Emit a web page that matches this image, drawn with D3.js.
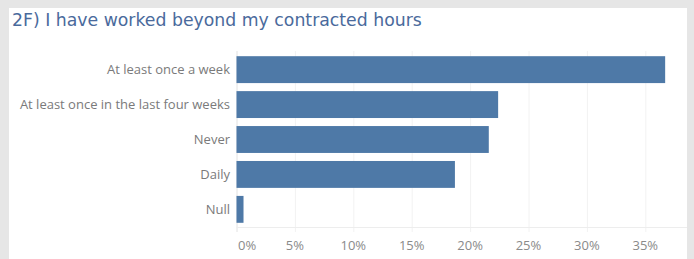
<!DOCTYPE html>
<html>
<head>
<meta charset="utf-8">
<script src="https://cdn.jsdelivr.net/npm/d3@7"></script>
<style>
  html, body { margin: 0; padding: 0; background: #e6e6e6; }
  svg { display: block; }
</style>
</head>
<body>
<script>
// Chart size
var width = 694;
var height = 259;

// Data
var categories = ["At least once a week", "At least once in the last four weeks", "Never", "Daily", "Null"];
var values = [0.367, 0.224, 0.216, 0.187, 0.006];
var ticks = [0, 0.05, 0.10, 0.15, 0.20, 0.25, 0.30, 0.35];
var title = "2F) I have worked beyond my contracted hours";

var svg = d3.select("body")
    .append("svg")
    .attr("width", width)
    .attr("height", height);

// white panel
svg.append("rect")
    .attr("x", 9)
    .attr("y", 8)
    .attr("width", 678)
    .attr("height", height - 8)
    .attr("fill", "white");

svg.append("text")
    .attr("x", 12)
    .attr("y", 26)
    .attr("font-family", "DejaVu Sans, Verdana, sans-serif")
    .attr("font-size", 17.3)
    .attr("fill", "#4a6a9c")
    .text(title);

// scales
var x = d3.scaleLinear()
    .domain([0, 0.35])
    .range([236.5, 645.3]);

var y = d3.scaleBand()
    .domain(categories)
    .range([52, 227])
    .paddingInner(0.23)
    .paddingOuter(0.12);

// gridlines
svg.append("g")
    .selectAll("line")
    .data(ticks)
    .enter()
    .append("line")
    .attr("x1", d => x(d) + 0.5)
    .attr("x2", d => x(d) + 0.5)
    .attr("y1", 51)
    .attr("y2", 232)
    .attr("stroke", d => d === 0 ? "#e2e2e2" : "#f2f2f2")
    .attr("stroke-width", 1);

// axis line
svg.append("line")
    .attr("x1", x(0))
    .attr("x2", 687)
    .attr("y1", 227.5)
    .attr("y2", 227.5)
    .attr("stroke", "#ededed");

// bars
svg.append("g")
    .selectAll("rect")
    .data(values)
    .enter()
    .append("rect")
    .attr("x", x(0))
    .attr("y", (d, i) => y(categories[i]))
    .attr("width", d => x(d) - x(0))
    .attr("height", y.bandwidth())
    .attr("fill", "#4e79a7");

// category labels
svg.append("g")
    .selectAll("text")
    .data(categories)
    .enter()
    .append("text")
    .attr("x", 230)
    .attr("y", d => y(d) + y.bandwidth() / 2)
    .attr("dy", "0.35em")
    .attr("text-anchor", "end")
    .attr("font-family", "Open Sans, sans-serif")
    .attr("font-size", 13)
    .attr("fill", "#7a7a7a")
    .text(d => d);

// tick labels
svg.append("g")
    .selectAll("text")
    .data(ticks)
    .enter()
    .append("text")
    .attr("x", d => d === 0 ? x(d) + 1.5 : x(d))
    .attr("y", 245)
    .attr("dy", "0.35em")
    .attr("text-anchor", d => d === 0 ? "start" : "middle")
    .attr("font-family", "Open Sans, sans-serif")
    .attr("font-size", 13)
    .attr("fill", "#8a8a8a")
    .text(d => d3.format(".0%")(d));
</script>
</body>
</html>
